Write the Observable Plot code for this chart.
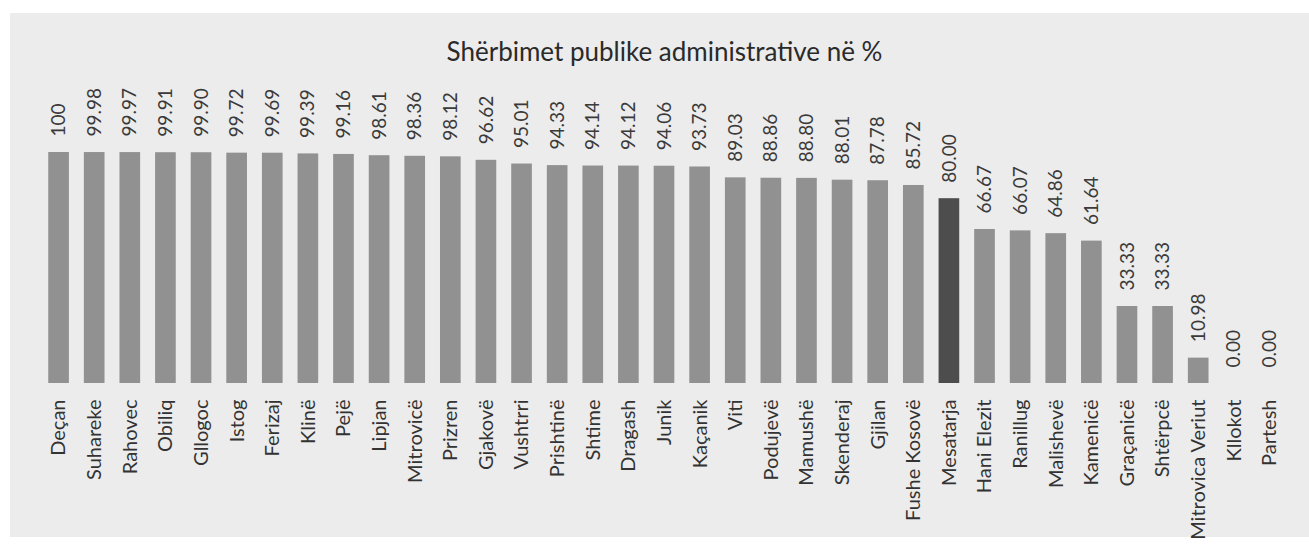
<!DOCTYPE html>
<html>
<head>
<meta charset="utf-8">
<script src="https://cdn.jsdelivr.net/npm/d3@7"></script>
<script src="https://cdn.jsdelivr.net/npm/@observablehq/plot@0.6"></script>
<style>
  html, body { margin: 0; padding: 0; background: #ffffff; }
  #wrap { position: relative; width: 1309px; height: 546px; background: #ffffff; overflow: hidden; }
  #panel { position: absolute; left: 10px; top: 13px; width: 1299px; height: 524px; background: #ececec; }
  #chart { position: absolute; left: 0; top: 0; }
</style>
</head>
<body>
<div id="wrap"><div id="panel"></div><div id="chart"></div></div>
<script>
const title = "Shërbimet publike administrative në %";
const municipalities = ["Deçan","Suhareke","Rahovec","Obiliq","Gllogoc","Istog","Ferizaj","Klinë","Pejë","Lipjan","Mitrovicë","Prizren","Gjakovë","Vushtrri","Prishtinë","Shtime","Dragash","Junik","Kaçanik","Viti","Podujevë","Mamushë","Skenderaj","Gjilan","Fushe Kosovë","Mesatarja","Hani Elezit","Ranillug","Malishevë","Kamenicë","Graçanicë","Shtërpcë","Mitrovica Veriut","Kllokot","Partesh"];
const values = [100,99.98,99.97,99.91,99.90,99.72,99.69,99.39,99.16,98.61,98.36,98.12,96.62,95.01,94.33,94.14,94.12,94.06,93.73,89.03,88.86,88.80,88.01,87.78,85.72,80.00,66.67,66.07,64.86,61.64,33.33,33.33,10.98,0,0];
const valueLabels = ["100","99.98","99.97","99.91","99.90","99.72","99.69","99.39","99.16","98.61","98.36","98.12","96.62","95.01","94.33","94.14","94.12","94.06","93.73","89.03","88.86","88.80","88.01","87.78","85.72","80.00","66.67","66.07","64.86","61.64","33.33","33.33","10.98","0.00","0.00"];
const averageName = "Mesatarja";

const data = municipalities.map((m, i) => ({name: m, value: values[i], label: valueLabels[i]}));

const chart = Plot.plot({
  width: 1309,
  height: 546,
  marginLeft: 34,
  marginRight: 15,
  marginTop: 152,
  marginBottom: 163,
  style: {background: "transparent", fontFamily: "Lato, 'Open Sans', sans-serif"},
  x: {domain: municipalities, paddingInner: 0.42, paddingOuter: 0.4, round: false, axis: null},
  y: {domain: [0, 100], axis: null},
  marks: [
    Plot.barY(data, {x: "name", y: "value", fill: d => d.name === averageName ? "#4d4d4d" : "#919191"}),
    Plot.text(data, {x: "name", y: "value", text: "label", rotate: -90, textAnchor: "start", dy: -16, fontSize: 19, fill: "#3a3a3a"}),
    Plot.text(data, {x: "name", y: 0, text: "name", rotate: -90, textAnchor: "end", dy: 16, fontSize: 20, fill: "#333333"}),
    Plot.text([title], {frameAnchor: "top", text: d => d, dy: -110, fontSize: 26, fill: "#2a2a2a"})
  ]
});
document.getElementById("chart").appendChild(chart);
</script>
</body>
</html>
